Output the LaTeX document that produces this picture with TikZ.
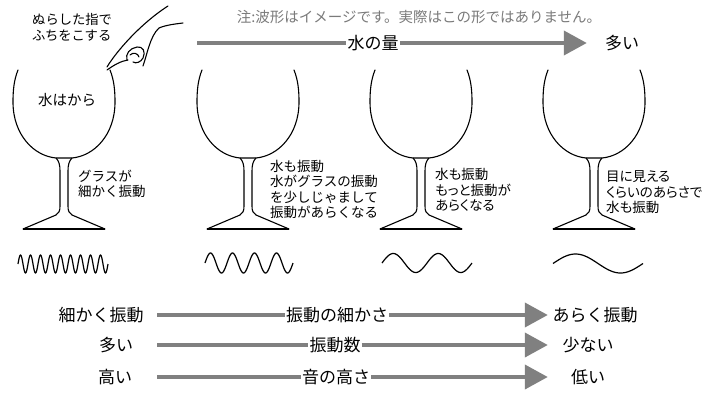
\documentclass[tikz,border=0pt]{standalone}
\usepackage{fontspec}
\setmainfont{Noto Sans CJK JP}
\newfontfamily\jpprop[RawFeature=+palt]{Noto Sans CJK JP}
\usetikzlibrary{arrows.meta}
\definecolor{arrowgray}{HTML}{808080}
\definecolor{notegray}{HTML}{7A7A7A}

\begin{document}
\begin{tikzpicture}[x=1pt,y=-1pt,
  inkline/.style={line width=1.1pt, line join=round, line cap=round},
  wave/.style={line width=1.2pt, line join=round},
  big/.style={font=\fontsize{17}{20}\selectfont, inner sep=0pt, text height=14.6pt, text depth=1.7pt},
  midlbl/.style={big, inner xsep=1pt},
  small/.style={font=\fontsize{13.5}{15.5}\selectfont, align=left, inner sep=0pt},
  smallprop/.style={small, font=\jpprop\fontsize{13.5}{15.5}\selectfont},
  arrowline/.style={draw=arrowgray, line width=4pt},
  tip/.style={-{Triangle[length=23pt,width=24pt]}},
  glass/.pic={
    % bowl
    \draw[inkline] (-46,70) .. controls (-50,80) and (-51,90) .. (-51,102)
      .. controls (-51,135) and (-30,156) .. (-8,158) -- (8,158)
      .. controls (30,156) and (51,135) .. (51,102)
      .. controls (51,90) and (50,80) .. (46,70);
    % stem and foot
    \draw[inkline] (-8,158) .. controls (-5,161) and (-4,165) .. (-4,171) -- (-4,206)
      .. controls (-4,211) and (-5,213) .. (-8,215) -- (-41,229);
    \draw[inkline] (8,158) .. controls (5,161) and (4,165) .. (4,171) -- (4,206)
      .. controls (4,211) and (5,213) .. (8,215) -- (41,229);
    \draw[line width=1.7pt] (-41,229) -- (41,229);
  }
]
\useasboundingbox (0,0) rectangle (709,394);

% glasses
\pic at (64,0) {glass};
\pic at (248,0) {glass};
\pic at (421,0) {glass};
\pic at (594,0) {glass};

% finger rubbing the rim
\draw[inkline] (107,67) .. controls (116,52) and (140,24) .. (168,6);
\draw[inkline] (107,70) .. controls (114,65) and (121,61) .. (128,60);
\draw[inkline] (127,60) .. controls (125,54) and (130,48) .. (137,47)
  .. controls (143,46) and (146,52) .. (143,58) .. controls (141,62) and (136,64) .. (133,62);
\draw[inkline] (130,55) .. controls (133,52) and (138,53) .. (139,57);
\draw[inkline] (143,66) .. controls (147,55) and (150,36) .. (159,28)
  .. controls (166,25) and (175,24) .. (183,23);

% texts
\node[small, anchor=west, font=\fontsize{13.3}{16}\selectfont] (hint) at (32,27) {ぬらした指で\\ふちをこする};
\node[font=\fontsize{14.5}{17}\selectfont, inner sep=0pt] (empty) at (67,100) {水はから};
\node[font=\fontsize{14.5}{17}\selectfont, text=notegray, inner sep=0pt] (note) at (419,17)
  {注:波形はイメージです。実際はこの形ではありません。};

\node[small, anchor=west] (g1t) at (78,184) {グラスが\\細かく振動};
\node[small, anchor=west] (g2t) at (270,189.5) {水も振動\\水がグラスの振動\\を少しじゃまして\\振動があらくなる};
\node[smallprop, anchor=west] (g3t) at (435,190) {水も振動\\もっと振動が\\あらくなる};
\node[smallprop, anchor=west] (g4t) at (606,192.5) {目に見える\\くらいのあらさで\\水も振動};

% amount of water
\coordinate (q0) at (197,43);
\node[midlbl] (qm) at (373,43) {水の量};
\node[big, minimum width=70pt] (qr) at (622,43) {多い};
\draw[arrowline] (q0) -- (qm);
\draw[arrowline, tip] (qm) -- (qr);

% waveforms
\draw[wave] plot[domain=0:90, samples=271] ({18+\x},{264-9*sin(36*\x)});
\draw[wave] plot[domain=0:88, samples=177] ({205+\x},{263-10*sin(360/22*\x)});
\draw[wave] plot[domain=0:90, samples=121] ({382+\x},{263-9.5*sin(8*\x)});
\draw[wave] plot[domain=0:90, samples=91] ({553+\x},{263.5-9.5*sin(4*\x)});

% comparison rows
\node[big, minimum width=112pt] (l1) at (101,315) {細かく振動};
\node[midlbl] (m1) at (337,315) {振動の細かさ};
\node[big, minimum width=94pt] (r1) at (595,315) {あらく振動};
\draw[arrowline] (l1) -- (m1);
\draw[arrowline, tip] (m1) -- (r1);

\node[big, minimum width=82pt] (l2) at (116,345) {多い};
\node[midlbl] (m2) at (335,345) {振動数};
\node[big, minimum width=80pt] (r2) at (588,345) {少ない};
\draw[arrowline] (l2) -- (m2);
\draw[arrowline, tip] (m2) -- (r2);

\node[big, minimum width=84pt] (l3) at (115,377) {高い};
\node[midlbl] (m3) at (336,377) {音の高さ};
\node[big, minimum width=80pt] (r3) at (588,377) {低い};
\draw[arrowline] (l3) -- (m3);
\draw[arrowline, tip] (m3) -- (r3);
\end{tikzpicture}
\end{document}
